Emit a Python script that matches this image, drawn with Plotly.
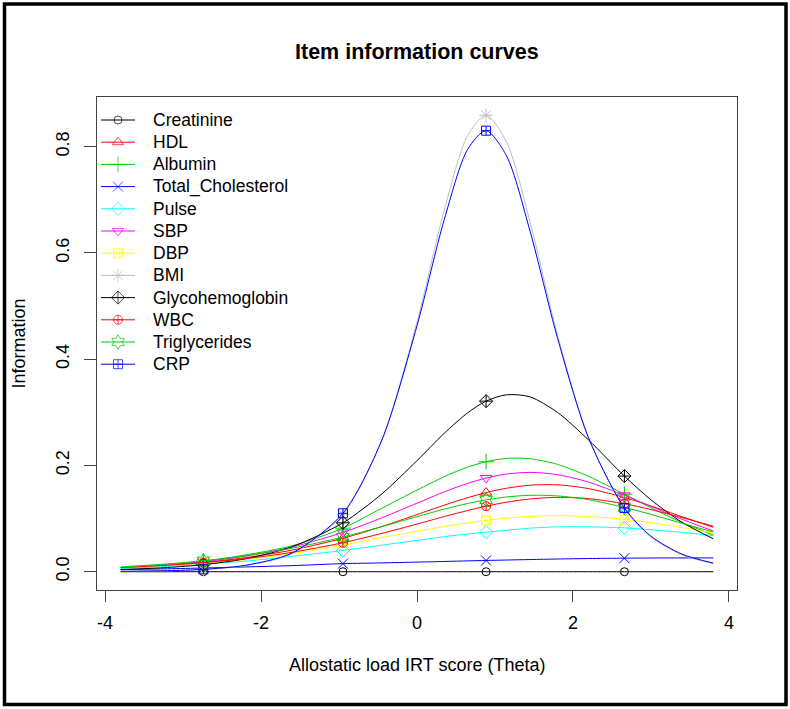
import plotly.graph_objects as go

# Theta grid (x values)
theta = [-3.8, -3.2, -2.74, -2.2, -1.6, -0.95, -0.45, 0.0, 0.35, 0.65, 0.886,
         1.15, 1.45, 1.8, 2.2, 2.66, 3.0, 3.4, 3.8]
# indices of the theta grid where R drew the point symbols
marker_idx = [2, 5, 10, 15]

items = ["Creatinine", "HDL", "Albumin", "Total_Cholesterol", "Pulse", "SBP",
         "DBP", "BMI", "Glycohemoglobin", "WBC", "Triglycerides", "CRP"]

creatinine = [0.000, 0.000, 0.000, 0.000, 0.000, 0.000, 0.000, 0.000, 0.000, 0.000,
              0.000, 0.000, 0.000, 0.000, 0.000, 0.000, 0.000, 0.000, 0.000]
hdl = [0.0077, 0.0123, 0.0176, 0.0264, 0.0408, 0.063, 0.0851, 0.1076, 0.1253, 0.1393,
       0.1489, 0.1572, 0.1628, 0.1635, 0.1564, 0.1397, 0.1238, 0.1035, 0.0836]
albumin = [0.0077, 0.0132, 0.0198, 0.0316, 0.049, 0.082, 0.1196, 0.1536, 0.179, 0.1968,
           0.207, 0.2133, 0.2127, 0.2021, 0.1795, 0.146, 0.1203, 0.0926, 0.0691]
total_chol = [0.004, 0.0055, 0.007, 0.009, 0.0115, 0.0152, 0.0166, 0.0181, 0.0193, 0.0204,
              0.0212, 0.022, 0.0229, 0.0239, 0.0248, 0.0255, 0.0258, 0.026, 0.026]
pulse = [0.006, 0.010, 0.014, 0.020, 0.029, 0.040, 0.050, 0.059, 0.066, 0.071,
         0.0745, 0.078, 0.082, 0.0845, 0.0845, 0.0825, 0.079, 0.074, 0.068]
sbp = [0.0078, 0.0129, 0.0189, 0.0293, 0.0466, 0.074, 0.1015, 0.129, 0.1503, 0.1663,
       0.1763, 0.1839, 0.187, 0.1827, 0.1686, 0.1438, 0.123, 0.0986, 0.0766]
dbp = [0.008, 0.012, 0.016, 0.023, 0.034, 0.050, 0.0644, 0.0762, 0.0851, 0.092,
       0.0966, 0.1009, 0.1041, 0.1055, 0.1037, 0.0985, 0.0925, 0.083, 0.073]
bmi = [0.0006, 0.0018, 0.0042, 0.0113, 0.0339, 0.108, 0.248, 0.470, 0.681, 0.821,
       0.859, 0.808, 0.658, 0.447, 0.252, 0.118, 0.065, 0.0316, 0.0152]
glyco = [0.004, 0.0079, 0.0133, 0.0244, 0.0471, 0.092, 0.1466, 0.209, 0.2606, 0.299,
         0.321, 0.333, 0.329, 0.300, 0.248, 0.180, 0.1354, 0.0929, 0.062]
wbc = [0.0079, 0.0122, 0.017, 0.0246, 0.0366, 0.0545, 0.0722, 0.0897, 0.1038, 0.1152,
       0.1233, 0.1309, 0.1369, 0.140, 0.1376, 0.1279, 0.117, 0.1018, 0.0857]
trig = [0.009, 0.0148, 0.0206, 0.0299, 0.0443, 0.0653, 0.0849, 0.1037, 0.1178, 0.1284,
        0.1352, 0.1407, 0.1438, 0.1427, 0.1356, 0.1209, 0.1079, 0.0911, 0.0748]
crp = [0.0007, 0.002, 0.0045, 0.0121, 0.0354, 0.110, 0.248, 0.463, 0.663, 0.795,
       0.830, 0.782, 0.641, 0.441, 0.252, 0.120, 0.067, 0.033, 0.0162]

series = [creatinine, hdl, albumin, total_chol, pulse, sbp, dbp, bmi, glyco, wbc, trig, crp]

colors = ["#000000", "#FF0000", "#00CD00", "#0000FF", "#00FFFF", "#FF00FF",
          "#FFFF00", "#BEBEBE", "#000000", "#FF0000", "#00CD00", "#0000FF"]
symbols = ["circle-open", "triangle-up-open", "cross-thin-open", "x-thin-open",
           "diamond-open", "triangle-down-open", "square-x-open", "asterisk-open",
           "diamond-cross-open", "circle-cross-open", "hexagram-open", "square-cross-open"]
sizes = [8, 10, 11, 10, 10, 10, 9, 11, 10, 9, 11, 9]

FONT = "Liberation Sans, Arial, sans-serif"

W, H = 790, 709
L, R, T, B = 97, 53, 97, 119
pw, ph = W - L - R, H - T - B


def px(x):
    return (x - L) / pw


def py(y):
    return (H - B - y) / ph


fig = go.Figure()
for name, ys, c, s, sz in zip(items, series, colors, symbols, sizes):
    fig.add_trace(go.Scatter(x=theta, y=ys, mode="lines", name=name,
                             line=dict(color=c, width=1, shape="spline", smoothing=0.8),
                             showlegend=False, hoverinfo="skip"))
    fig.add_trace(go.Scatter(x=[theta[i] for i in marker_idx], y=[ys[i] for i in marker_idx],
                             mode="markers", name=name, showlegend=False,
                             marker=dict(symbol=s, size=sz, color=c, line=dict(color=c, width=1))))

# R-style legend (top-left, no box), drawn on an overlay axis in plot-area fractions
leg_top, leg_step = 120, 22.2
leg_x0, leg_x1, leg_text = 101, 135, 151
annotations = []
for i, (name, c, s, sz) in enumerate(zip(items, colors, symbols, sizes)):
    yc = py(leg_top + leg_step * i)
    fig.add_trace(go.Scatter(x=[px(leg_x0), px((leg_x0 + leg_x1) / 2), px(leg_x1)],
                             y=[yc, yc, yc], xaxis="x2", yaxis="y2",
                             mode="lines+markers", showlegend=False, hoverinfo="skip",
                             line=dict(color=c, width=1),
                             marker=dict(symbol=s, size=[0, sz, 0], color=c,
                                         line=dict(color=c, width=1))))
    annotations.append(dict(text=name, xref="paper", yref="paper", x=px(leg_text), y=yc,
                            xanchor="left", yanchor="middle", showarrow=False,
                            font=dict(family=FONT, size=17.5, color="black")))

annotations += [
    dict(text="<b>Item information curves</b>", xref="paper", yref="paper",
         x=0.5, y=py(52), xanchor="center", yanchor="middle", showarrow=False,
         font=dict(family=FONT, size=21.5, color="black")),
    dict(text="Allostatic load IRT score (Theta)", xref="paper", yref="paper",
         x=0.5, y=py(665), xanchor="center", yanchor="middle", showarrow=False,
         font=dict(family=FONT, size=18, color="black")),
    dict(text="Information", xref="paper", yref="paper", textangle=-90,
         x=px(18), y=0.5, xanchor="center", yanchor="middle", showarrow=False,
         font=dict(family=FONT, size=18, color="black")),
]

fig.update_layout(
    width=W, height=H,
    margin=dict(l=L, r=R, t=T, b=B, pad=0),
    paper_bgcolor="white", plot_bgcolor="white",
    font=dict(family=FONT, size=18, color="black"),
    showlegend=False,
    xaxis=dict(range=[-4.104, 4.104], tickvals=[-4, -2, 0, 2, 4],
               ticktext=["-4", "-2", "0", "2", "4"],
               showgrid=False, zeroline=False, showline=True, mirror=True,
               linecolor="#444444", linewidth=1, ticks="outside", ticklen=11,
               tickcolor="#444444", ticklabelstandoff=5,
               tickfont=dict(family=FONT, size=18)),
    yaxis=dict(range=[-0.0344, 0.8934], tickvals=[0, 0.2, 0.4, 0.6, 0.8],
               ticktext=["0.0", "0.2", "0.4", "0.6", "0.8"],
               showgrid=False, zeroline=False, showline=True, mirror=True,
               linecolor="#444444", linewidth=1, ticks="outside", ticklen=12,
               tickcolor="#444444", tickangle=-90, ticklabelstandoff=8,
               tickfont=dict(family=FONT, size=18)),
    xaxis2=dict(range=[0, 1], domain=[0, 1], overlaying="x", visible=False,
                fixedrange=True),
    yaxis2=dict(range=[0, 1], domain=[0, 1], overlaying="y", visible=False,
                fixedrange=True),
    annotations=annotations,
    shapes=[dict(type="rect", xref="paper", yref="paper",
                 x0=px(4.5), x1=px(786), y0=py(704.5), y1=py(4),
                 line=dict(color="black", width=3.5), fillcolor="rgba(0,0,0,0)")],
)

fig.write_html("out.html", config={"displayModeBar": False},
               post_script="document.body.style.margin='0';document.body.style.padding='0';"
                           "document.body.style.overflow='hidden';")
